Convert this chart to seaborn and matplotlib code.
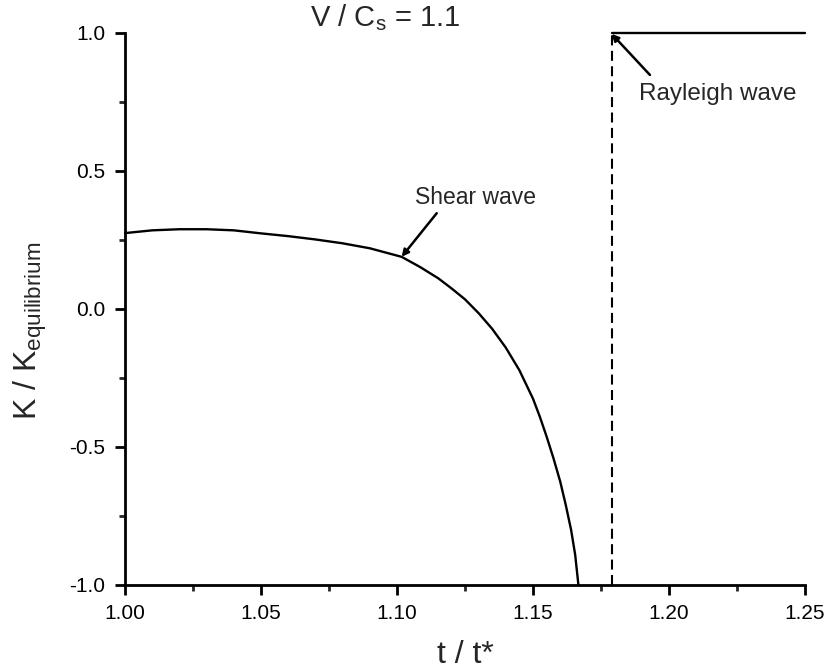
import matplotlib
matplotlib.use("Agg")
import matplotlib.pyplot as plt
import seaborn as sns
import pandas as pd
from matplotlib.ticker import MultipleLocator

# ---- data ----
t_shear = [1.000, 1.010, 1.020, 1.030, 1.040, 1.050, 1.060, 1.070, 1.080, 1.090,
           1.1017, 1.1085, 1.1152, 1.120, 1.125, 1.130, 1.135, 1.140, 1.145, 1.150,
           1.1525, 1.155, 1.1575, 1.160, 1.162, 1.1640, 1.1655, 1.1667]
k_shear = [0.275, 0.285, 0.289, 0.289, 0.285, 0.274, 0.264, 0.252, 0.238, 0.220,
           0.189, 0.152, 0.111, 0.075, 0.035, -0.015, -0.072, -0.140, -0.222, -0.325,
           -0.390, -0.462, -0.540, -0.625, -0.708, -0.800, -0.890, -1.000]
t_rayleigh_jump = [1.1789, 1.1789]
k_rayleigh_jump = [-1.0, 1.0]
t_rayleigh = [1.1789, 1.25]
k_rayleigh = [1.0, 1.0]

x_ticks = [1.00, 1.05, 1.10, 1.15, 1.20, 1.25]
x_ticklabels = ["1.00", "1.05", "1.10", "1.15", "1.20", "1.25"]
y_ticks = [-1.0, -0.5, 0.0, 0.5, 1.0]
y_ticklabels = ["-1.0", "-0.5", "0.0", "0.5", "1.0"]

title_text = r"V / C$_\mathrm{s}$ = 1.1"
xlabel_text = "t / t*"
ylabel_text = r"K / K$_\mathrm{equilibrium}$"
shear_label = "Shear wave"
rayleigh_label = "Rayleigh wave"

# ---- style ----
sns.set_style("ticks")
plt.rcParams["font.family"] = ["Liberation Sans", "DejaVu Sans"]
plt.rcParams["mathtext.fontset"] = "custom"
plt.rcParams["mathtext.rm"] = "Liberation Sans"
plt.rcParams["mathtext.it"] = "Liberation Sans"
plt.rcParams["mathtext.sf"] = "Liberation Sans"

fig = plt.figure(figsize=(8.27, 6.72), dpi=100)
ax = fig.add_axes([125 / 827, 1 - 585 / 672, (805 - 125) / 827, (585 - 33) / 672])

df_shear = pd.DataFrame({"t": t_shear, "k": k_shear})
df_jump = pd.DataFrame({"t": t_rayleigh_jump, "k": k_rayleigh_jump})
df_ray = pd.DataFrame({"t": t_rayleigh, "k": k_rayleigh})

common = dict(ax=ax, color="black", sort=False, estimator=None, errorbar=None)
sns.lineplot(data=df_shear, x="t", y="k", linewidth=1.7, **common)
sns.lineplot(data=df_jump, x="t", y="k", linewidth=1.5, **common)
ax.lines[-1].set_linestyle((0, (4.8, 2.6)))
sns.lineplot(data=df_ray, x="t", y="k", linewidth=1.7, **common)
for ln in ax.lines:
    ln.set_color("black")
    ln.set_clip_on(False)

ax.set_xlim(1.0, 1.25)
ax.set_ylim(-1.0, 1.0)
ax.set_xticks(x_ticks)
ax.set_xticklabels(x_ticklabels)
ax.set_yticks(y_ticks)
ax.set_yticklabels(y_ticklabels)
ax.xaxis.set_minor_locator(MultipleLocator(0.025))
ax.yaxis.set_minor_locator(MultipleLocator(0.25))
ax.tick_params(which="major", direction="out", length=7, width=2, labelsize=15,
               colors="black", pad=7)
ax.tick_params(which="minor", direction="out", length=4, width=2)
for s in ["top", "right"]:
    ax.spines[s].set_visible(False)
for s in ["left", "bottom"]:
    ax.spines[s].set_linewidth(2)
    ax.spines[s].set_color("black")

ax.set_xlabel(xlabel_text, fontsize=23, labelpad=12)
ax.set_ylabel(ylabel_text, fontsize=23)
ax.yaxis.set_label_coords(-0.112, 0.46)

fig.text(385 / 827, 1 - 18 / 672, title_text, ha="center", va="center", fontsize=21)

arrow = dict(arrowstyle="-|>", color="black", lw=1.8, mutation_scale=10, shrinkA=0, shrinkB=0)
ax.annotate("", xy=(1.1017, 0.189), xytext=(1.1146, 0.347), arrowprops=arrow)
ax.text(1.1290, 0.405, shear_label, ha="center", va="center", fontsize=16.5)
ax.annotate("", xy=(1.1789, 0.997), xytext=(1.193, 0.848), arrowprops=arrow,
            annotation_clip=False)
ax.text(1.218, 0.779, rayleigh_label, ha="center", va="center", fontsize=17.5)

fig.savefig("out.png", dpi=100)
